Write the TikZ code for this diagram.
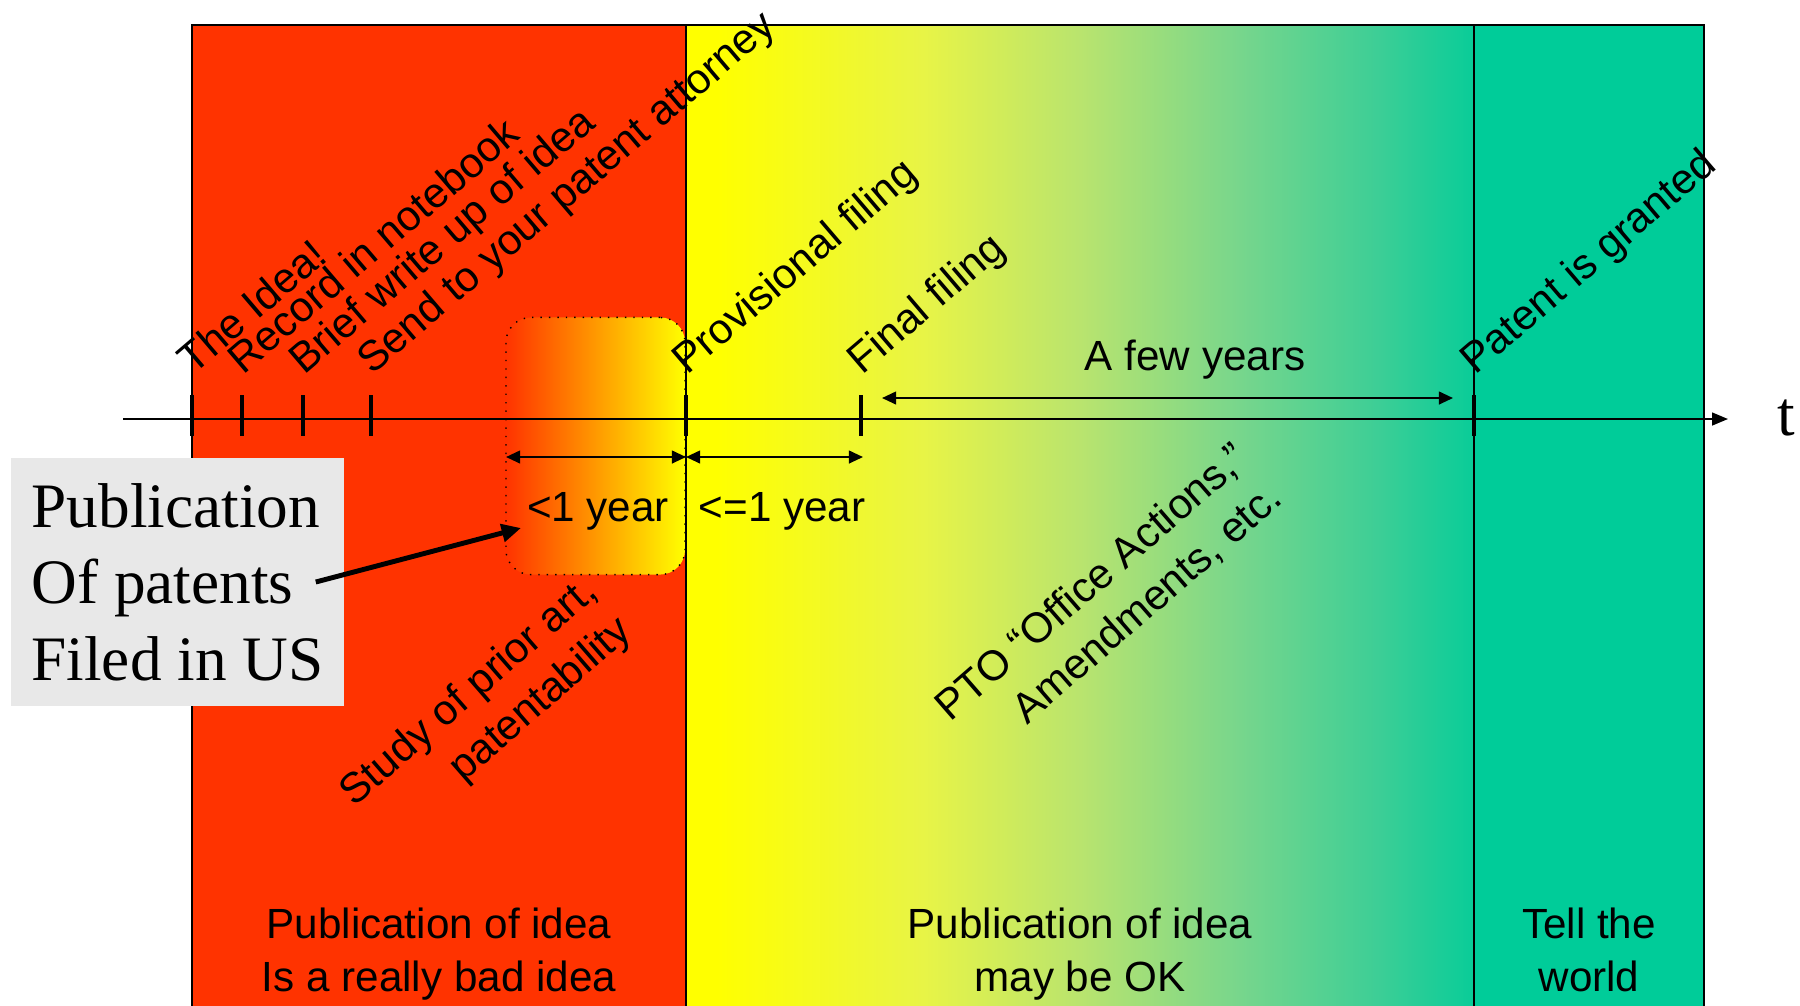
\documentclass[tikz,border=0pt]{standalone}
\usepackage{fontspec}
\setmainfont{Liberation Sans}
\newfontfamily\pubserif{Liberation Serif}
\usetikzlibrary{arrows.meta,positioning}

\definecolor{badred}{RGB}{255,51,0}
\definecolor{okyellow}{RGB}{255,255,0}
\definecolor{okmixa}{RGB}{232,244,70}
\definecolor{okmixb}{RGB}{185,228,110}
\definecolor{okmixc}{RGB}{120,214,140}
\definecolor{okmixd}{RGB}{60,206,150}
\definecolor{worldteal}{RGB}{0,204,153}
\definecolor{pubgray}{RGB}{232,232,232}

\pgfdeclarehorizontalshading{okshading}{100bp}{color(0bp)=(okyellow); color(25bp)=(okyellow); color(27bp)=(okyellow); color(40bp)=(okmixa); color(50bp)=(okmixb); color(60bp)=(okmixc); color(69bp)=(okmixd); color(75bp)=(worldteal!85!okmixd); color(100bp)=(worldteal)}

\tikzset{
  tickmark/.style={line width=1.2pt},
  steplabel/.style={rotate=40.5, anchor=base west, inner sep=0pt, font=\fontsize{12}{15}\selectfont},
  spanarrow/.style={line width=0.6pt, {Triangle[length=4pt,width=3.6pt]}-{Triangle[length=4pt,width=3.6pt]}},
  spantext/.style={anchor=base, inner sep=0pt, font=\fontsize{12}{15}\selectfont},
  phasetext/.style={anchor=north, align=center, inner sep=0pt, font=\fontsize{12}{15}\selectfont},
  notetext/.style={rotate=41, align=right, inner sep=0pt, font=\fontsize{12}{15}\selectfont},
  windowbox/.style={draw, dotted, line width=0.4pt, rounded corners=0.25cm, left color=badred, right color=okyellow},
  pubbox/.style={fill=pubgray, inner sep=0pt, align=left, font=\pubserif\fontsize{18}{21.8}\selectfont},
  pubarrow/.style={line width=1.4pt, -{Triangle[length=5.5pt,width=5pt]}}
}

\begin{document}
\begin{tikzpicture}[x=0.01cm, y=-0.01cm]
    \useasboundingbox (0,0) rectangle (1800,1005);
    % the three phases
    \fill[badred] (192,25) rectangle (686,1010);
    \fill[shading=okshading] (686,25) rectangle (1474,1010);
    \fill[worldteal] (1474,25) rectangle (1704,1010);
    \node[windowbox, minimum width=1.79cm, minimum height=2.57cm] (window) at (595.5,446) {};
    \draw[line width=0.6pt] (192,1010) -- (192,25) -- (1704,25) -- (1704,1010);
    \draw[line width=0.6pt] (686,25) -- (686,1010);
    \draw[line width=0.6pt] (1474,25) -- (1474,1010);

    % time axis
    \coordinate (axstart) at (123,419);
    \coordinate (axend) at (1728,419);
    \draw[line width=0.6pt, -{Triangle[length=4.5pt,width=3.6pt]}] (axstart) -- (axend);
    \node[anchor=base, inner sep=0pt, font=\pubserif\fontsize{18}{21.8}\selectfont] (tlabel) at (1786,435) {t};

    \foreach \x/\n/\txt in {192/idea/{The Idea!}, 242/record/{Record in notebook},
        303/brief/{Brief write up of idea}, 371/send/{Send to your patent attorney},
        686/prov/{Provisional filing}, 861/final/{Final filing}, 1474/grant/{Patent is granted}} {
        \draw[tickmark] (\x,395) -- (\x,436);
        \coordinate (t\n) at (\x,419);
        \node[steplabel] (lab\n) at (\x+1,376) {\txt};
    }

    % spans
    \coordinate (winleft) at (506,457);
    \coordinate (provmid) at (686,457);
    \coordinate (finalmid) at (863,457);
    \draw[spanarrow] (winleft) -- (provmid);
    \draw[spanarrow] (provmid) -- (finalmid);
    \node[spantext] (lessyear) at (598,521) {<1 year};
    \node[spantext] (uptoyear) at (782,521) {<=1 year};
    \coordinate (fewstart) at (882,398);
    \coordinate (fewend) at (1453,398);
    \draw[spanarrow] (fewstart) -- (fewend);
    \node[spantext] (fewyears) at (1195,370) {A few years};

    % notes
    \node[notetext] (study) at (487,713) {Study of prior art,\\patentability};
    \node[notetext] (pto) at (1109,603) {PTO “Office Actions,”\\Amendments, etc.};

    \node[phasetext] (badidea) at (439,907) {Publication of idea\\Is a really bad idea};
    \node[phasetext] (okidea) at (1080,907) {Publication of idea\\may be OK};
    \node[phasetext] (world) at (1589,907) {Tell the\\world};

    % publication box
    \node[pubbox, minimum width=3.33cm, minimum height=2.48cm] (pub) at (177.5,582) {Publication\\Of patents\\Filed in US};
    \coordinate (pubtip) at (521,528);
    \draw[pubarrow] ([xshift=-0.29cm]pub.east) -- (pubtip);
\end{tikzpicture}
\end{document}
